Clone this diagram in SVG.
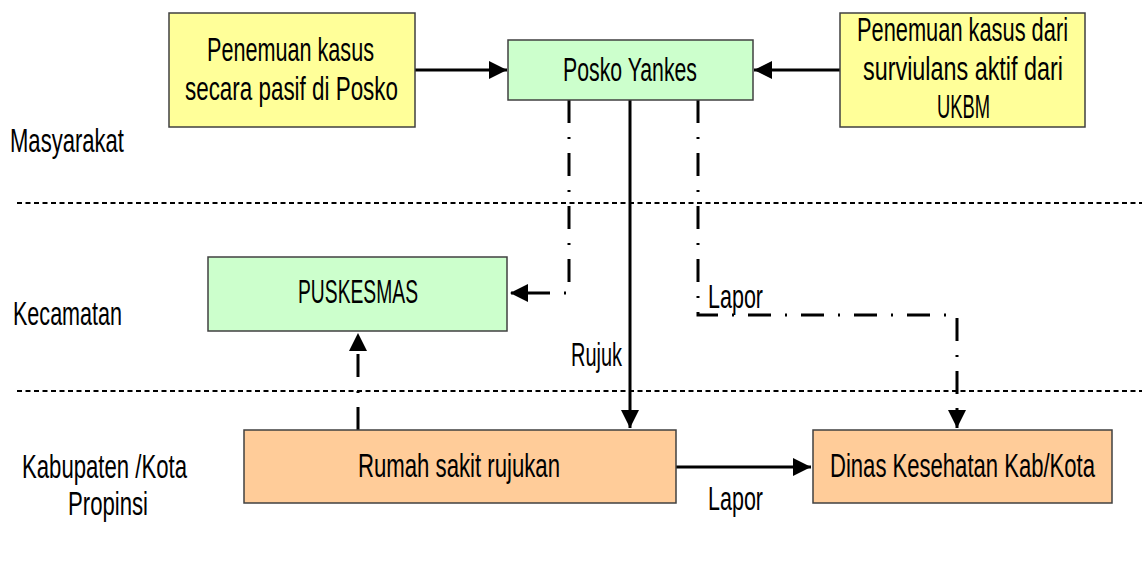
<svg xmlns="http://www.w3.org/2000/svg" width="1142" height="578" viewBox="0 0 1142 578">
<style>
.t{font-family:"Liberation Sans Narrow","Liberation Sans",sans-serif;font-size:33px;fill:#000}
.box{stroke:#404040;stroke-width:1.5}
.yel{fill:#FFFF99}.grn{fill:#CCFFCC}.org{fill:#FFCC99}
.sep{stroke:#000;stroke-width:2.2;stroke-dasharray:5 3.5;fill:none}
.solid{stroke:#000;stroke-width:3;fill:none}
.dd{stroke:#000;stroke-width:3;fill:none;stroke-dasharray:23 14 2 14}
</style>
<defs>
<marker id="ah" viewBox="0 0 10 10" refX="10" refY="5" markerWidth="6.5" markerHeight="6" markerUnits="strokeWidth" orient="auto">
<path d="M0,0 L10,5 L0,10 Z" fill="#000"/>
</marker>
</defs>
<rect width="1142" height="578" fill="#fff"/>
<g id="lanes">
<line class="sep" x1="17" y1="203" x2="1142" y2="203"/>
<line class="sep" x1="17" y1="391" x2="1142" y2="391"/>
<text class="t" x="10" y="152" textLength="114" lengthAdjust="spacingAndGlyphs">Masyarakat</text>
<text class="t" x="13" y="325" textLength="109" lengthAdjust="spacingAndGlyphs">Kecamatan</text>
<text class="t" x="22" y="478" textLength="165" lengthAdjust="spacingAndGlyphs">Kabupaten /Kota</text>
<text class="t" x="68" y="515" textLength="80" lengthAdjust="spacingAndGlyphs">Propinsi</text>
</g>
<g id="connectors">
<line class="solid" x1="415" y1="70" x2="507" y2="70" marker-end="url(#ah)"/>
<line class="solid" x1="840" y1="70" x2="754" y2="70" marker-end="url(#ah)"/>
<line class="solid" x1="630" y1="100" x2="630" y2="428" marker-end="url(#ah)"/>
<path class="dd" d="M569,100 V293 H510" marker-end="url(#ah)"/>
<path class="dd" d="M698,100 V315 H957 V428" marker-end="url(#ah)"/>
<line class="dd" x1="358" y1="430" x2="358" y2="333" marker-end="url(#ah)"/>
<line class="solid" x1="676" y1="467" x2="811" y2="467" marker-end="url(#ah)"/>
<text class="t" x="571" y="366" textLength="51" lengthAdjust="spacingAndGlyphs">Rujuk</text>
<text class="t" x="708" y="308" textLength="55" lengthAdjust="spacingAndGlyphs">Lapor</text>
<text class="t" x="708" y="510" textLength="55" lengthAdjust="spacingAndGlyphs">Lapor</text>
</g>
<g id="pasif">
<rect class="box yel" x="169" y="13" width="246" height="114"/>
<text class="t" x="207" y="61" textLength="167" lengthAdjust="spacingAndGlyphs">Penemuan kasus</text>
<text class="t" x="185" y="100" textLength="213" lengthAdjust="spacingAndGlyphs">secara pasif di Posko</text>
</g>
<g id="posko">
<rect class="box grn" x="508" y="40" width="245" height="60"/>
<text class="t" x="563" y="81" textLength="134" lengthAdjust="spacingAndGlyphs">Posko Yankes</text>
</g>
<g id="aktif">
<rect class="box yel" x="840" y="13" width="245" height="114"/>
<text class="t" x="857" y="41" textLength="211" lengthAdjust="spacingAndGlyphs">Penemuan kasus dari</text>
<text class="t" x="863" y="80" textLength="200" lengthAdjust="spacingAndGlyphs">surviulans aktif dari</text>
<text class="t" x="937" y="118" textLength="53" lengthAdjust="spacingAndGlyphs">UKBM</text>
</g>
<g id="puskesmas">
<rect class="box grn" x="208" y="257" width="299" height="74"/>
<text class="t" x="298" y="303" textLength="120" lengthAdjust="spacingAndGlyphs">PUSKESMAS</text>
</g>
<g id="rumahsakit">
<rect class="box org" x="244" y="430" width="432" height="73"/>
<text class="t" x="358" y="477" textLength="202" lengthAdjust="spacingAndGlyphs">Rumah sakit rujukan</text>
</g>
<g id="dinas">
<rect class="box org" x="813" y="430" width="299" height="73"/>
<text class="t" x="830" y="477" textLength="265" lengthAdjust="spacingAndGlyphs">Dinas Kesehatan Kab/Kota</text>
</g>
</svg>
